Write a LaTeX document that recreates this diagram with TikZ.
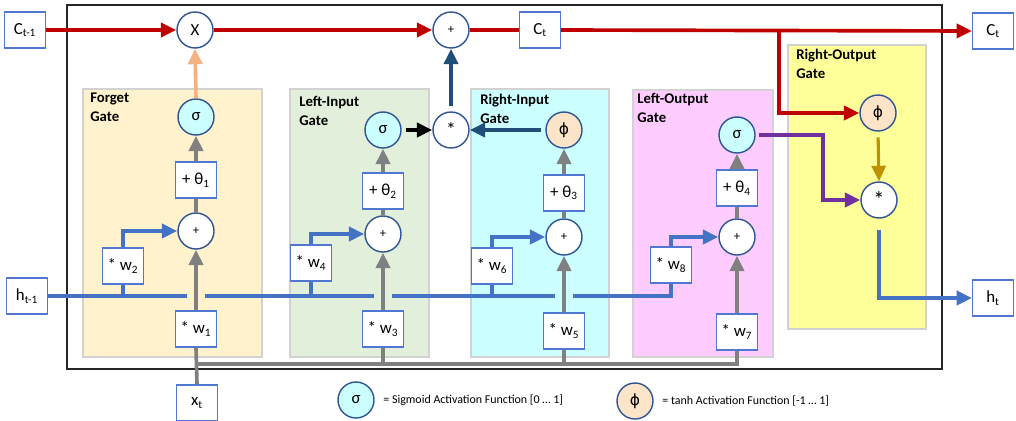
\documentclass[tikz,border=0pt]{standalone}
\usepackage{fontspec}
\setmainfont{Carlito}
\newfontfamily\phifont{DejaVu Sans}
\usetikzlibrary{arrows.meta,calc}

\definecolor{cellred}{RGB}{192,0,0}
\definecolor{hblue}{RGB}{68,114,196}
\definecolor{xgrey}{RGB}{128,128,128}
\definecolor{darkblue}{RGB}{31,78,121}
\definecolor{peach}{RGB}{244,177,131}
\definecolor{gold}{RGB}{191,144,0}
\definecolor{purp}{RGB}{112,48,160}
\definecolor{ringblue}{RGB}{46,84,149}
\definecolor{boxblue}{RGB}{80,120,210}
\definecolor{sigfill}{RGB}{204,255,255}
\definecolor{tanhfill}{RGB}{252,228,200}
\definecolor{gateline}{RGB}{210,210,210}
\definecolor{forgetfill}{RGB}{255,242,204}
\definecolor{linfill}{RGB}{226,239,218}
\definecolor{rinfill}{RGB}{204,255,255}
\definecolor{loutfill}{RGB}{255,204,255}
\definecolor{routfill}{RGB}{255,255,153}

\newcommand{\tanhsym}{{\phifont\fontsize{11}{11}\selectfont ϕ}}

\tikzset{
  op/.style={circle,draw=ringblue,line width=1pt,fill=white,minimum size=0.9cm,inner sep=0pt,font=\fontsize{12}{12}\selectfont},
  sig/.style={op,fill=sigfill},
  tnh/.style={op,fill=tanhfill},
  wbox/.style={rectangle,draw=boxblue,line width=0.8pt,fill=white,minimum width=1.02cm,minimum height=0.9cm,inner sep=0pt,font=\fontsize{12}{12}\selectfont},
  gate/.style={draw=gateline,line width=0.8pt},
  gatelbl/.style={anchor=north west,align=left,inner sep=0pt,font=\bfseries\fontsize{10.5}{13.5}\selectfont},
  legend/.style={anchor=west,inner sep=0pt,font=\fontsize{8.5}{10}\selectfont},
  redln/.style={draw=cellred,line width=2.6pt},
  blueln/.style={draw=hblue,line width=2.6pt},
  greyln/.style={draw=xgrey,line width=2.6pt},
  tip/.style={-{Triangle[length=11pt,width=10pt]}},
}

\begin{document}
\begin{tikzpicture}[x=0.025cm,y=-0.025cm]
  \useasboundingbox (0,0) rectangle (1016,420);
  % cell frame and gate areas
  \draw[line width=0.8pt,draw=black!85] (67,5) rectangle (942,369);
  \draw[gate,fill=forgetfill] (83,89) rectangle (262,357);
  \draw[gate,fill=linfill] (290,89) rectangle (429,357);
  \draw[gate,fill=rinfill] (471,89) rectangle (609,357);
  \draw[gate,fill=loutfill] (633,90) rectangle (773,357);
  \draw[gate,fill=routfill] (788,45) rectangle (926,329);
  \node[gatelbl] (fgl) at (90,93) {Forget\\Gate};
  \node[gatelbl] (lil) at (299,96) {Left-Input\\Gate};
  \node[gatelbl] (ril) at (480,94) {Right-Input\\Gate};
  \node[gatelbl] (lol) at (637,93) {Left-Output\\Gate};
  \node[gatelbl] (rol) at (796,49) {Right-Output\\Gate};

  % inputs and outputs
  \node[wbox] (cin) at (25,30) {C\textsubscript{t-1}};
  \node[wbox] (hin) at (27,296) {h\textsubscript{t-1}};
  \node[wbox] (xt) at (197,403) {x\textsubscript{t}};
  \node[wbox] (ct) at (540,30) {C\textsubscript{t}};
  \node[wbox] (cout) at (993,31) {C\textsubscript{t}};
  \node[wbox] (hout) at (993,298) {h\textsubscript{t}};

  % cell state line
  \node[op] (mx) at (195,30) {X};
  \node[op,font=\fontsize{9}{9}\selectfont] (ad) at (451,30) {+};

  % forget gate
  \node[sig] (s1) at (196,117) {σ};
  \node[wbox] (th1) at (196,180) {+ θ\textsubscript{1}};
  \node[op,font=\fontsize{9}{9}\selectfont] (p1) at (196,231) {+};
  \node[wbox] (w2) at (123,266) {* w\textsubscript{2}};
  \node[wbox] (w1) at (196,329) {* w\textsubscript{1}};

  % left-input gate
  \node[sig] (s2) at (383,130) {σ};
  \node[op,font=\fontsize{14}{14}\selectfont] (mul) at (451,130) {*};
  \node[wbox] (th2) at (383,191) {+ θ\textsubscript{2}};
  \node[op,font=\fontsize{9}{9}\selectfont] (p2) at (383,234) {+};
  \node[wbox] (w4) at (311,263) {* w\textsubscript{4}};
  \node[wbox] (w3) at (383,329) {* w\textsubscript{3}};

  % right-input gate
  \node[tnh] (ph1) at (564,130) {\tanhsym};
  \node[wbox] (th3) at (564,193) {+ θ\textsubscript{3}};
  \node[op,font=\fontsize{9}{9}\selectfont] (p3) at (564,237) {+};
  \node[wbox] (w6) at (492,266) {* w\textsubscript{6}};
  \node[wbox] (w5) at (564,331) {* w\textsubscript{5}};

  % left-output gate
  \node[sig] (s4) at (737,135) {σ};
  \node[wbox] (th4) at (737,188) {+ θ\textsubscript{4}};
  \node[op,font=\fontsize{9}{9}\selectfont] (p4) at (737,237) {+};
  \node[wbox] (w8) at (671,265) {* w\textsubscript{8}};
  \node[wbox] (w7) at (737,332) {* w\textsubscript{7}};

  % right-output gate
  \node[tnh] (ph2) at (878,113) {\tanhsym};
  \node[op,font=\fontsize{16}{16}\selectfont] (mul2) at (879,200) {*};

  % legend
  \node[sig] (ls) at (356,400) {σ};
  \node[legend] (lst) at ([xshift=6]ls.east) {= Sigmoid Activation Function [0 … 1]};
  \node[tnh] (lp) at (635,401) {\tanhsym};
  \node[legend] (lpt) at ([xshift=6]lp.east) {= tanh Activation Function [-1 … 1]};

  % helper points
  \coordinate (rb) at (779,30);
  \coordinate (pk) at (823,135);
  \coordinate (xb) at (196,364);
  \coordinate (ga1) at (187,296);
  \coordinate (ga2) at (205,296);
  \coordinate (gb1) at (374,296);
  \coordinate (gb2) at (392,296);
  \coordinate (gc1) at (555,296);
  \coordinate (gc2) at (573,296);

  % cell state
  \draw[redln,tip] (cin.east) -- (mx.west);
  \draw[redln,tip] (mx.east) -- (ad.west);
  \draw[redln] (ad.east) -- (ct.west);
  \draw[redln,tip] (ct.east) -- (cout.west);
  \draw[redln,tip] (rb) |- (ph2.west);

  % x_t paths
  \draw[greyln] (xt.north) -- (w1.south);
  \draw[greyln] (xb) -| (w7.south);
  \draw[greyln] (w3.south) -- (w3.south |- xb);
  \draw[greyln] (w5.south) -- (w5.south |- xb);
  \draw[greyln,tip] (w1.north) -- (p1.south);
  \draw[greyln,tip] (w3.north) -- (p2.south);
  \draw[greyln,tip] (w5.north) -- (p3.south);
  \draw[greyln,tip] (w7.north) -- (p4.south);
  \draw[greyln] (p1.north) -- (th1.south);
  \draw[greyln] (p2.north) -- (th2.south);
  \draw[greyln] (p3.north) -- (th3.south);
  \draw[greyln] (p4.north) -- (th4.south);
  \draw[greyln,tip] (th1.north) -- (s1.south);
  \draw[greyln,tip] (th2.north) -- (s2.south);
  \draw[greyln,tip] (th3.north) -- (ph1.south);
  \draw[greyln,tip] (th4.north) -- (s4.south);

  % h_{t-1} paths
  \draw[blueln] (hin.east) -- (ga1);
  \draw[blueln] (ga2) -- (gb1);
  \draw[blueln] (gb2) -- (gc1);
  \draw[blueln] (gc2) -| (w8.south);
  \draw[blueln] (w2.south) -- (w2.south |- hin.east);
  \draw[blueln] (w4.south) -- (w4.south |- hin.east);
  \draw[blueln] (w6.south) -- (w6.south |- hin.east);
  \draw[blueln,tip] (w2.north) |- (p1.west);
  \draw[blueln,tip] (w4.north) |- (p2.west);
  \draw[blueln,tip] (w6.north) |- (p3.west);
  \draw[blueln,tip] (w8.north) |- (p4.west);

  % gate outputs
  \draw[draw=peach,line width=2.6pt,tip] (s1.north) -- (mx.south);
  \draw[draw=black,line width=2.6pt,tip,shorten <=3pt] (s2.east) -- (mul.west);
  \draw[draw=darkblue,line width=2.6pt,tip,shorten <=3pt] (ph1.west) -- (mul.east);
  \draw[draw=darkblue,line width=2.6pt,tip,shorten <=4pt] (mul.north) -- (ad.south);
  \draw[draw=purp,line width=2.6pt,tip,shorten <=2pt] (s4.east) -- (pk) |- (mul2.west);
  \draw[draw=gold,line width=2.2pt,tip,shorten <=4pt] (ph2.south) -- (mul2.north);
  \draw[blueln,tip,shorten <=8pt] (mul2.south) |- (hout.west);
\end{tikzpicture}
\end{document}
